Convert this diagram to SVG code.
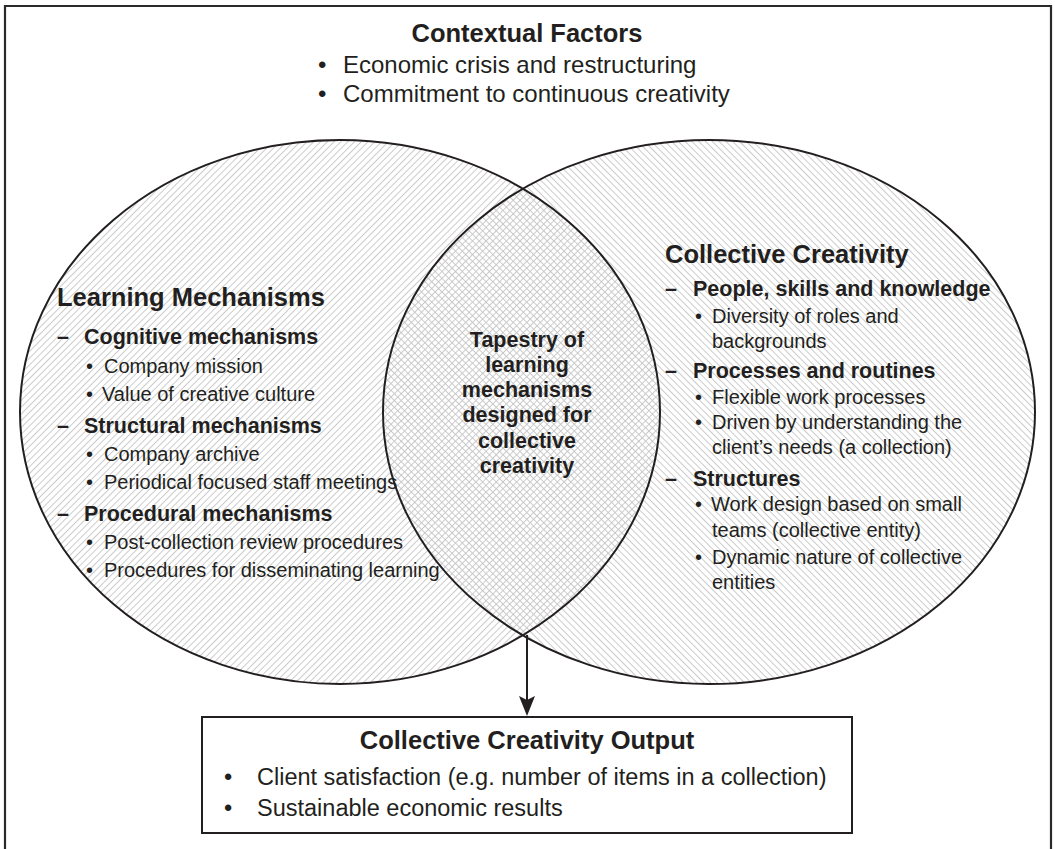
<svg xmlns="http://www.w3.org/2000/svg" width="1055" height="849" viewBox="0 0 1055 849">
<style>
  text { font-family: "Liberation Sans", Arial, sans-serif; fill: #231f20; }
  .h { font-weight: bold; font-size: 25.5px; }
  .s { font-weight: bold; font-size: 21.5px; }
  .b { font-size: 20px; }
  .t { font-size: 24px; }
  .o { font-size: 23.5px; }
  .c { font-weight: bold; font-size: 21.5px; text-anchor: middle; }
  .mid { text-anchor: middle; }
  .edge { fill: none; stroke: #231f20; stroke-width: 2; }
  .frame { fill: none; stroke: #2a2a2a; stroke-width: 2.2; }
</style>
<defs>
  <pattern id="hatchL" patternUnits="userSpaceOnUse" width="4.8" height="10" patternTransform="rotate(45)">
    <line x1="0.5" y1="0" x2="0.5" y2="10" stroke="#c4c4c4" stroke-width="0.9"/>
  </pattern>
  <pattern id="hatchR" patternUnits="userSpaceOnUse" width="4.8" height="10" patternTransform="rotate(-45)">
    <line x1="0.5" y1="0" x2="0.5" y2="10" stroke="#c4c4c4" stroke-width="0.9"/>
  </pattern>
  <marker id="ah" viewBox="0 0 20 16" refX="4" refY="8" markerWidth="20" markerHeight="16" markerUnits="userSpaceOnUse" orient="auto">
    <path d="M0,0 L20,8 L0,16 L4,8 z" fill="#231f20"/>
  </marker>
</defs>

<rect x="0" y="0" width="1055" height="849" fill="#ffffff"/>

<g id="frame">
  <path class="frame" d="M5,852 V6 H1051 V852"/>
</g>

<g id="contextual-factors">
  <text class="h mid" x="527" y="42">Contextual Factors</text>
  <text class="t" x="318" y="73">•</text>
  <text class="t" x="343" y="73">Economic crisis and restructuring</text>
  <text class="t" x="318" y="102">•</text>
  <text class="t" x="343" y="102">Commitment to continuous creativity</text>
</g>

<g id="venn-shapes">
  <ellipse cx="340" cy="412" rx="320" ry="272" fill="url(#hatchL)"/>
  <ellipse cx="709" cy="412" rx="326" ry="272" fill="url(#hatchR)"/>
  <ellipse class="edge" cx="340" cy="412" rx="320" ry="272"/>
  <ellipse class="edge" cx="709" cy="412" rx="326" ry="272"/>
</g>

<g id="learning-mechanisms">
  <text class="h" x="57" y="306">Learning Mechanisms</text>
  <text class="s" x="57" y="344">–</text>
  <text class="s" x="84" y="344">Cognitive mechanisms</text>
  <text class="b" x="86" y="373">•</text>
  <text class="b" x="104" y="373">Company mission</text>
  <text class="b" x="86" y="401">•</text>
  <text class="b" x="102" y="401">Value of creative culture</text>
  <text class="s" x="57" y="433">–</text>
  <text class="s" x="84" y="433">Structural mechanisms</text>
  <text class="b" x="86" y="461">•</text>
  <text class="b" x="104" y="461">Company archive</text>
  <text class="b" x="86" y="489">•</text>
  <text class="b" x="104" y="489">Periodical focused staff meetings</text>
  <text class="s" x="57" y="521">–</text>
  <text class="s" x="84" y="521">Procedural mechanisms</text>
  <text class="b" x="86" y="549">•</text>
  <text class="b" x="104" y="549">Post-collection review procedures</text>
  <text class="b" x="86" y="577">•</text>
  <text class="b" x="104" y="577">Procedures for disseminating learning</text>
</g>

<g id="tapestry">
  <text class="c" x="527" y="347">Tapestry of</text>
  <text class="c" x="527" y="372">learning</text>
  <text class="c" x="527" y="397">mechanisms</text>
  <text class="c" x="527" y="422">designed for</text>
  <text class="c" x="527" y="448">collective</text>
  <text class="c" x="527" y="473">creativity</text>
</g>

<g id="collective-creativity">
  <text class="h" x="665" y="263">Collective Creativity</text>
  <text class="s" x="665" y="296">–</text>
  <text class="s" x="693" y="296">People, skills and knowledge</text>
  <text class="b" x="695" y="323">•</text>
  <text class="b" x="712" y="323">Diversity of roles and</text>
  <text class="b" x="712" y="348">backgrounds</text>
  <text class="s" x="665" y="378">–</text>
  <text class="s" x="693" y="378">Processes and routines</text>
  <text class="b" x="695" y="404">•</text>
  <text class="b" x="712" y="404">Flexible work processes</text>
  <text class="b" x="695" y="429">•</text>
  <text class="b" x="712" y="429">Driven by understanding the</text>
  <text class="b" x="712" y="454">client’s needs (a collection)</text>
  <text class="s" x="665" y="486">–</text>
  <text class="s" x="693" y="486">Structures</text>
  <text class="b" x="695" y="511">•</text>
  <text class="b" x="711" y="511">Work design based on small</text>
  <text class="b" x="712" y="537">teams (collective entity)</text>
  <text class="b" x="695" y="564">•</text>
  <text class="b" x="712" y="564">Dynamic nature of collective</text>
  <text class="b" x="712" y="589">entities</text>
</g>

<g id="connectors">
  <line class="edge" x1="527" y1="635" x2="527" y2="700" marker-end="url(#ah)"/>
</g>

<g id="output">
  <rect class="edge" x="202" y="717" width="650" height="116" fill="#ffffff"/>
  <text class="h mid" x="527" y="749">Collective Creativity Output</text>
  <text class="o" x="224" y="785">•</text>
  <text class="o" x="257" y="785">Client satisfaction (e.g. number of items in a collection)</text>
  <text class="o" x="224" y="816">•</text>
  <text class="o" x="257" y="816">Sustainable economic results</text>
</g>
</svg>
